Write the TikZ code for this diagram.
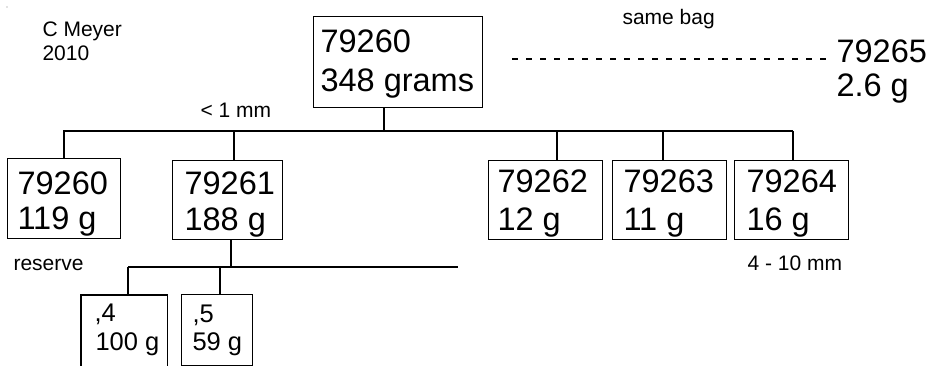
\documentclass[tikz,border=0pt]{standalone}
\usepackage{fontspec}
\setmainfont{Liberation Sans}
\begin{document}
\begin{tikzpicture}[x=1pt,y=-1pt,
  line width=1.1pt,
  box/.style={draw, inner sep=0pt, anchor=north west},
  ghost/.style={inner sep=0pt, anchor=north west},
  big/.style={inner sep=0pt, anchor=base west, font=\fontsize{32.5}{32.5}\selectfont},
  mid/.style={inner sep=0pt, anchor=base west, font=\fontsize{25.5}{25.5}\selectfont},
  small/.style={inner sep=0pt, anchor=base west, font=\fontsize{21}{21}\selectfont},
  conn/.style={draw, line width=1.1pt},
  dashline/.style={draw, line width=1.1pt, dash pattern=on 6pt off 8pt}]
\useasboundingbox (0,0) rectangle (936,366);
\fill[gray] (7,7) circle (0.6);
% top box
\node[box, minimum width=169, minimum height=91] (top) at (313,16) {};
\node[big] (topA) at (320,53) {79260};
\node[big] (topB) at (320,92) {348 grams};
% child boxes
\node[box, minimum width=113, minimum height=80] (c0) at (7,158) {};
\node[big] (c0A) at (17,194) {79260};
\node[big] (c0B) at (17,229) {119 g};
\node[box, minimum width=110, minimum height=79] (c1) at (172,160) {};
\node[big] (c1A) at (184,194) {79261};
\node[big] (c1B) at (184,230) {188 g};
\node[box, minimum width=114, minimum height=79] (c2) at (488,160) {};
\node[big] (c2A) at (497,193) {79262};
\node[big] (c2B) at (497,230) {12 g};
\node[box, minimum width=114, minimum height=79] (c3) at (612,160) {};
\node[big] (c3A) at (623,193) {79263};
\node[big] (c3B) at (623,230) {11 g};
\node[box, minimum width=114, minimum height=79] (c4) at (734,160) {};
\node[big] (c4A) at (746,193) {79264};
\node[big] (c4B) at (746,230) {16 g};
% sub boxes
\node[ghost, minimum width=85, minimum height=73] (s4) at (81,295) {};
\draw (s4.south west) -- (s4.north west) -- (s4.north east) -- (s4.south east);
\node[mid] (s4A) at (94,321) {,4};
\node[mid] (s4B) at (95,350) {100 g};
\node[box, minimum width=71, minimum height=71] (s5) at (181,294) {};
\node[mid] (s5A) at (192,322) {,5};
\node[mid] (s5B) at (192,350) {59 g};
% side item
\node[big] (bagA) at (836,63) {79265};
\node[big] (bagB) at (836,97) {2.6 g};
% labels
\node[small] (auth1) at (42,37) {C Meyer};
\node[small] (auth2) at (42,61) {2010};
\node[small] (lt1) at (200,118) {< 1 mm};
\node[small] (same) at (622,25) {same bag};
\node[small] (res) at (13,270) {reserve};
\node[small] (mm) at (747,270) {4 - 10 mm};
% bus coordinates
\coordinate (j0) at (384,131);
\coordinate (busL) at (63,131);
\coordinate (busR) at (793,131);
\coordinate (d0) at (64,131);
\coordinate (d1) at (234,131);
\coordinate (d2) at (557,131);
\coordinate (d3) at (663,131);
\coordinate (d4) at (793,131);
\coordinate (j1) at (231,267);
\coordinate (bus2L) at (128,267);
\coordinate (bus2R) at (458,267);
\coordinate (e4) at (128,267);
\coordinate (e5) at (220,267);
\coordinate (dashL) at (512,59);
\coordinate (dashR) at (833,59);
% connectors
\draw[conn] (top.south -| j0) -- (j0);
\draw[conn] (busL) -- (busR);
\draw[conn] (c0.north -| d0) -- (d0);
\draw[conn] (c1.north -| d1) -- (d1);
\draw[conn] (c2.north -| d2) -- (d2);
\draw[conn] (c3.north -| d3) -- (d3);
\draw[conn] (c4.north -| d4) -- (d4);
\draw[conn] (c1.south -| j1) -- (j1);
\draw[conn] (bus2L) -- (bus2R);
\draw[conn] (s4.north -| e4) -- (e4);
\draw[conn] (s5.north -| e5) -- (e5);
\draw[dashline] (dashL) -- (dashR);
\end{tikzpicture}
\end{document}
